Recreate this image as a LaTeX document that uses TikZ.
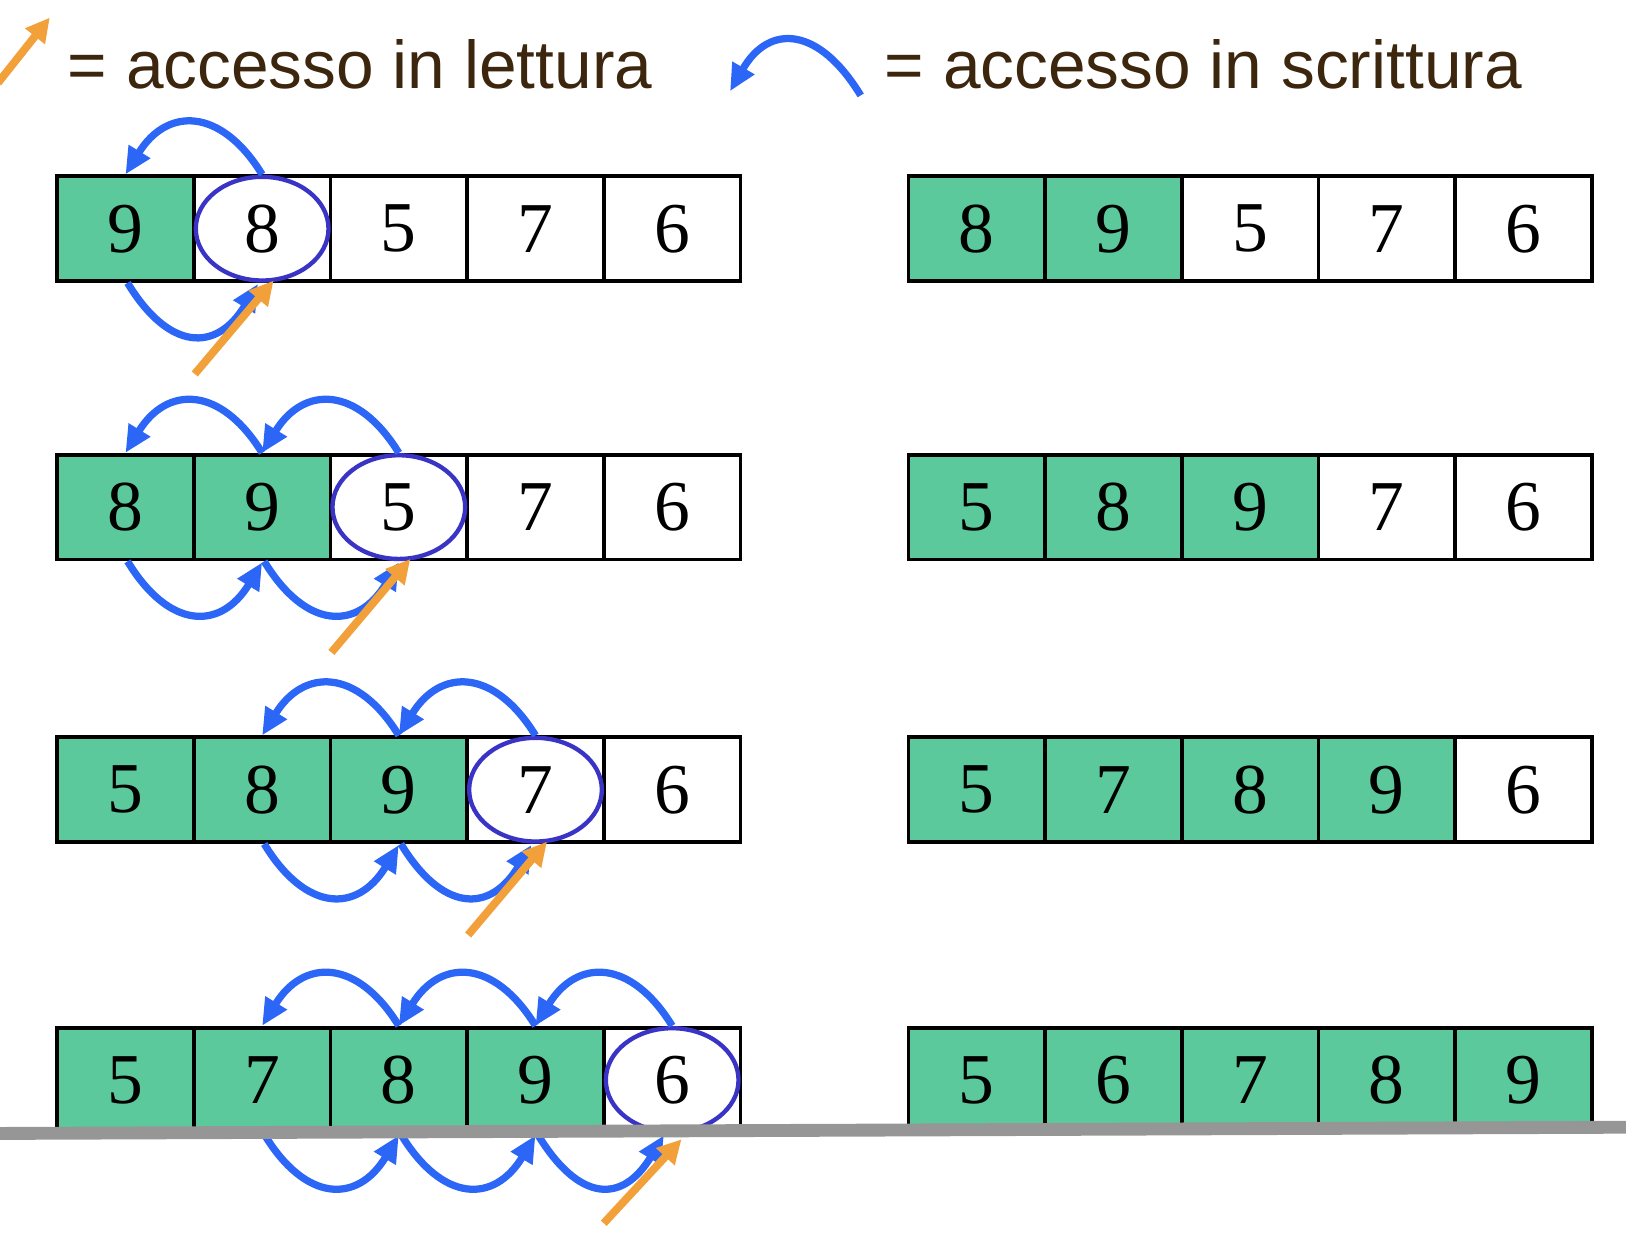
\documentclass[tikz,border=0pt]{standalone}
\usepackage{fontspec}
\setmainfont{Liberation Serif}
\newfontfamily\legendfont{Liberation Sans}
\usetikzlibrary{arrows.meta,shapes.geometric}
\definecolor{cellgreen}{RGB}{91,201,156}
\definecolor{arcblue}{RGB}{43,102,246}
\definecolor{ringblue}{RGB}{58,52,198}
\definecolor{readorange}{RGB}{242,161,58}
\definecolor{legendbrown}{RGB}{60,38,14}
\definecolor{floorgray}{RGB}{150,150,150}
\begin{document}
\begin{tikzpicture}[x=0.5pt,y=-0.5pt,
  cell/.style={draw=black, line width=1.8pt, minimum width=65.9pt, minimum height=50.5pt, inner sep=0pt, font=\fontsize{34.5pt}{34pt}\selectfont},
  done/.style={cell, fill=cellgreen},
  todo/.style={cell, fill=white},
  ring/.style={ellipse, draw=ringblue, line width=2.1pt, fill=white, minimum width=64pt, minimum height=50pt, inner sep=0pt, font=\fontsize{34.5pt}{34pt}\selectfont},
  write/.style={draw=arcblue, line width=3.5pt, -{Triangle[length=13pt,width=11.5pt]}},
  read/.style={draw=readorange, line width=3.8pt, -{Triangle[length=11.5pt,width=11.5pt]}},
  floor/.style={draw=floorgray, line width=6.2pt},
  legend/.style={font=\legendfont\fontsize{32.6pt}{34pt}\selectfont, text=legendbrown, inner sep=0pt, anchor=base west}
]
\useasboundingbox (0,0) rectangle (1568,1207);

% ---------- legend ----------
\coordinate (lr0) at (-2,80);
\coordinate (lr1) at (48,17);
\draw[read] (lr0) -- (lr1);
\node[legend] (leg1) at (65,85) {= accesso in lettura};
\coordinate (lw0) at (830,92);
\coordinate (lw1) at (704,88);
\draw[write] (lw0) .. controls +(-40,-66) and +(38,-66) .. (lw1);
\node[legend] (leg2) at (853,85) {= accesso in scrittura};

% ---------- rows ----------
% row 1
\node[done] (a1) at (121,220.5) {9};
\node[todo] (a2) at (252.8,220.5) {};
\node[todo] (a3) at (384.6,220.5) {5};
\node[todo] (a4) at (516.4,220.5) {7};
\node[todo] (a5) at (648.2,220.5) {6};
\node[ring] (ra) at (a2) {8};
\node[done] (A1) at (941.9,220.5) {8};
\node[done] (A2) at (1073.7,220.5) {9};
\node[todo] (A3) at (1205.5,220.5) {5};
\node[todo] (A4) at (1337.3,220.5) {7};
\node[todo] (A5) at (1469.1,220.5) {6};

% row 2
\node[done] (b1) at (121,489) {8};
\node[done] (b2) at (252.8,489) {9};
\node[todo] (b3) at (384.6,489) {};
\node[todo] (b4) at (516.4,489) {7};
\node[todo] (b5) at (648.2,489) {6};
\node[ring] (rb) at (b3) {5};
\node[done] (B1) at (941.9,489) {5};
\node[done] (B2) at (1073.7,489) {8};
\node[done] (B3) at (1205.5,489) {9};
\node[todo] (B4) at (1337.3,489) {7};
\node[todo] (B5) at (1469.1,489) {6};

% row 3
\node[done] (c1) at (121,761.5) {5};
\node[done] (c2) at (252.8,761.5) {8};
\node[done] (c3) at (384.6,761.5) {9};
\node[todo] (c4) at (516.4,761.5) {};
\node[todo] (c5) at (648.2,761.5) {6};
\node[ring] (rc) at (c4) {7};
\node[done] (C1) at (941.9,761.5) {5};
\node[done] (C2) at (1073.7,761.5) {7};
\node[done] (C3) at (1205.5,761.5) {8};
\node[done] (C4) at (1337.3,761.5) {9};
\node[todo] (C5) at (1469.1,761.5) {6};

% row 4
\node[done] (d1) at (121,1041.5) {5};
\node[done] (d2) at (252.8,1041.5) {7};
\node[done] (d3) at (384.6,1041.5) {8};
\node[done] (d4) at (516.4,1041.5) {9};
\node[todo] (d5) at (648.2,1041.5) {};
\node[ring] (rd) at (d5) {6};
\node[done] (D1) at (941.9,1041.5) {5};
\node[done] (D2) at (1073.7,1041.5) {6};
\node[done] (D3) at (1205.5,1041.5) {7};
\node[done] (D4) at (1337.3,1041.5) {8};
\node[done] (D5) at (1469.1,1041.5) {9};

% ---------- write arcs ----------
\newcommand{\toparc}[2]{\draw[write] (#1.north) .. controls +(-40,-65) and +(40,-65) .. (#2.north);}
\newcommand{\botarc}[3]{\draw[write] ([xshift=1]#1.south) .. controls +(40,66) and +(-40,66) .. ([shift={(#3,1)}]#2.south);}

\toparc{a2}{a1}
\botarc{a1}{a2}{-4}

\toparc{b3}{b2}
\toparc{b2}{b1}
\botarc{b1}{b2}{0}
\botarc{b2}{b3}{0}

\toparc{c4}{c3}
\toparc{c3}{c2}
\botarc{c2}{c3}{0}
\botarc{c3}{c4}{-4}

\toparc{d5}{d4}
\toparc{d4}{d3}
\toparc{d3}{d2}
\botarc{d2}{d3}{0}
\botarc{d3}{d4}{0}
\botarc{d4}{d5}{-8}

% ---------- read arrows ----------
\coordinate (sa) at ([shift={(-65,88)}]ra.south);
\draw[read] (sa) -- ([shift={(11,-2)}]ra.south);
\coordinate (sb) at ([shift={(-65,88)}]rb.south);
\draw[read] (sb) -- ([shift={(11,-2)}]rb.south);
\coordinate (sc) at ([shift={(-65,88)}]rc.south);
\draw[read] (sc) -- ([shift={(11,-2)}]rc.south);
\coordinate (sd) at ([shift={(-66,86)}]rd.south);
\draw[read] (sd) -- ([shift={(9,5)}]rd.south);

% ---------- floor line ----------
\coordinate (f0) at (0,1093);
\coordinate (f1) at (1568,1087);
\draw[floor] (f0) -- (f1);
\end{tikzpicture}
\end{document}
